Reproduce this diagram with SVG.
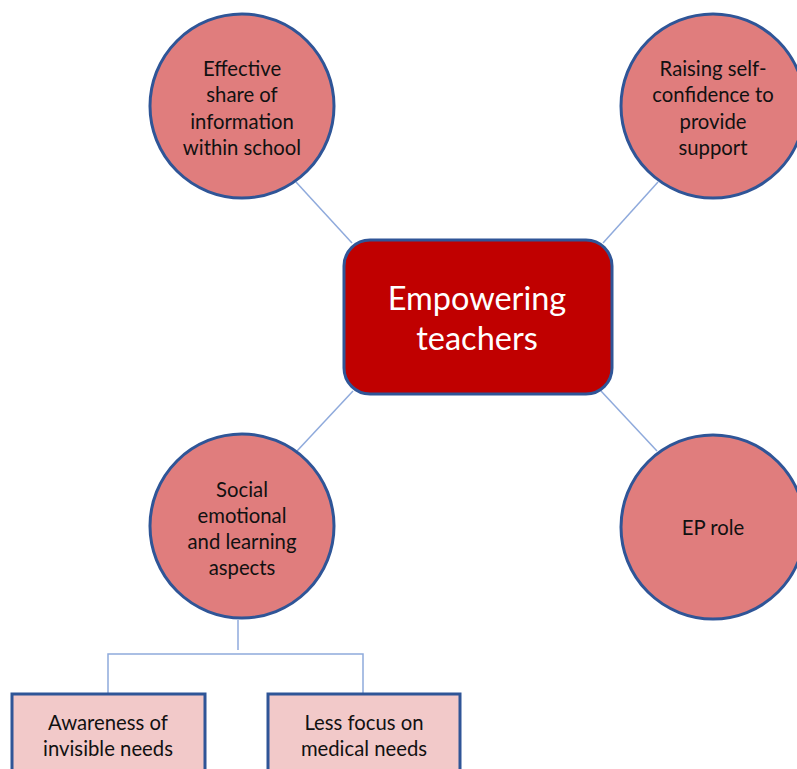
<svg xmlns="http://www.w3.org/2000/svg" width="797" height="769" viewBox="0 0 797 769">
<style>
.c{fill:#E07D7D;stroke:#2F5597;stroke-width:3}
.b{fill:#F2C9C9;stroke:#2F5597;stroke-width:3}
.t{font-family:Lato,"Open Sans","Liberation Sans",sans-serif;font-size:20.3px;fill:#111;text-anchor:middle;dominant-baseline:central}
.w{font-family:Lato,"Open Sans","Liberation Sans",sans-serif;font-size:32.5px;fill:#fff;text-anchor:middle;dominant-baseline:central}
.l{stroke:#8FAADC;stroke-width:1.5;fill:none}
</style>
<rect width="797" height="769" fill="#fff"/>
<g id="connectors">
<line class="l" x1="296" y1="182" x2="352" y2="243"/>
<line class="l" x1="658" y1="182" x2="603" y2="243"/>
<line class="l" x1="353" y1="391" x2="297" y2="451"/>
<line class="l" x1="601" y1="391" x2="657" y2="451"/>
<polyline class="l" points="238,620 238,650"/>
<polyline class="l" points="108,694 108,654 363,654 363,694"/>
</g>
<g id="center">
<rect x="344" y="240" width="268" height="154" rx="26" fill="#C00000" stroke="#2F5597" stroke-width="3"/>
<text class="w" x="477" y="297">Empowering</text>
<text class="w" x="477" y="337">teachers</text>
</g>
<g id="n1">
<circle class="c" cx="242" cy="106" r="92"/>
<text class="t" x="242" y="68">Effective</text>
<text class="t" x="242" y="94">share of</text>
<text class="t" x="242" y="121">information</text>
<text class="t" x="242" y="147">within school</text>
</g>
<g id="n2">
<circle class="c" cx="713" cy="106" r="92"/>
<text class="t" x="713" y="68">Raising self-</text>
<text class="t" x="713" y="94">confidence to</text>
<text class="t" x="713" y="121">provide</text>
<text class="t" x="713" y="147">support</text>
</g>
<g id="n3">
<circle class="c" cx="242" cy="526" r="92"/>
<text class="t" x="242" y="489">Social</text>
<text class="t" x="242" y="515">emotional</text>
<text class="t" x="242" y="541">and learning</text>
<text class="t" x="242" y="567">aspects</text>
</g>
<g id="n4">
<circle class="c" cx="713" cy="527" r="92"/>
<text class="t" x="713" y="527">EP role</text>
</g>
<g id="b1">
<rect class="b" x="12" y="694" width="193" height="90"/>
<text class="t" x="108" y="722">Awareness of</text>
<text class="t" x="108" y="748">invisible needs</text>
</g>
<g id="b2">
<rect class="b" x="268" y="694" width="192" height="90"/>
<text class="t" x="364" y="722">Less focus on</text>
<text class="t" x="364" y="748">medical needs</text>
</g>
</svg>
